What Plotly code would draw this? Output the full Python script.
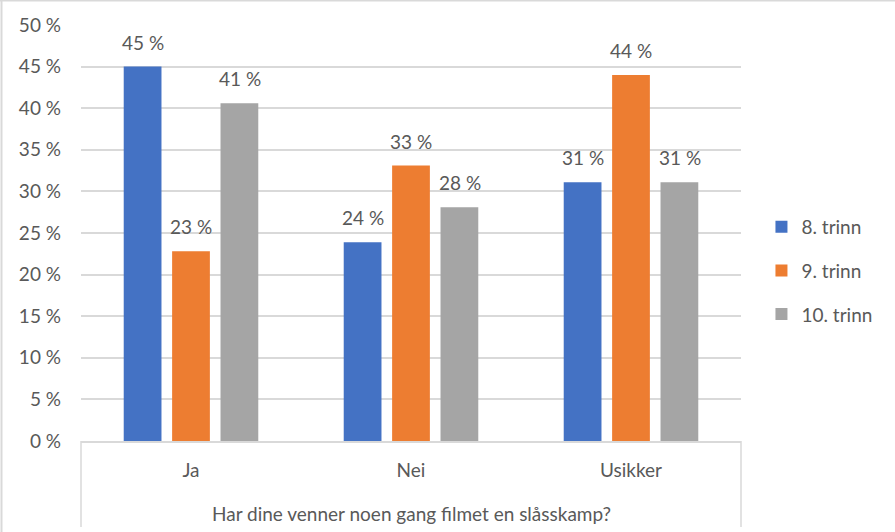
import plotly.graph_objects as go

categories = ["Ja", "Nei", "Usikker"]
series_names = ["8. trinn", "9. trinn", "10. trinn"]
trinn_8 = [45.0, 23.9, 31.1]
trinn_9 = [22.8, 33.1, 44.0]
trinn_10 = [40.6, 28.1, 31.1]
y_ticks = [0, 5, 10, 15, 20, 25, 30, 35, 40, 45, 50]
x_title = "Har dine venner noen gang filmet en slåsskamp?"

colors = ["#4472c4", "#ed7d31", "#a5a5a5"]
text_col = "#595959"
grid_col = "#d9d9d9"
FONT = "Lato"
FS = 19

fig = go.Figure()
for i, (name, vals) in enumerate(zip(series_names, [trinn_8, trinn_9, trinn_10])):
    fig.add_trace(go.Bar(
        x=categories, y=vals, name=name,
        marker=dict(color=colors[i], line=dict(width=0)),
        legendgroup=name,
    ))
    # data labels above bars, shifted to each bar's slot in the group
    for c, v in zip(categories, vals):
        fig.add_annotation(
            x=c, y=v, text=f"{v:.0f} %", showarrow=False,
            xshift=(i - 1) * 48.5, yshift=11, yanchor="bottom",
            font=dict(family=FONT, size=FS, color=text_col),
        )

# x-axis title box (Excel style multi-level category)
fig.add_annotation(
    x=0.5, y=-0.175, xref="paper", yref="paper", text=x_title,
    showarrow=False, yanchor="middle",
    font=dict(family=FONT, size=FS, color=text_col),
)
for xv in (0, 1):
    fig.add_shape(type="line", xref="paper", yref="paper",
                  x0=xv, x1=xv, y0=0, y1=-0.207,
                  line=dict(color=grid_col, width=1.5))
# outer chart border (top and left)
fig.add_shape(type="line", xref="paper", yref="paper",
              x0=-81 / 660, x1=814 / 660, y0=440.5 / 416, y1=440.5 / 416,
              line=dict(color=grid_col, width=2))
fig.add_shape(type="line", xref="paper", yref="paper",
              x0=-79.5 / 660, x1=-79.5 / 660, y0=441 / 416, y1=-91 / 416,
              line=dict(color=grid_col, width=2))

fig.update_layout(
    width=895, height=532,
    margin=dict(l=81, r=154, t=25, b=91),
    paper_bgcolor="white", plot_bgcolor="white",
    barmode="group", bargap=0.34, bargroupgap=0.22,
    font=dict(family=FONT, size=FS, color=text_col),
    xaxis=dict(
        showgrid=False, showline=True, linecolor=grid_col, linewidth=1.5,
        ticks="", ticklabelstandoff=11,
        tickfont=dict(family=FONT, size=FS, color=text_col),
    ),
    yaxis=dict(
        range=[0, 50], tickvals=y_ticks,
        ticktext=[f"{t} %" for t in y_ticks],
        showgrid=True, gridcolor=grid_col, gridwidth=1.5,
        zeroline=False, showline=False, ticks="",
        ticklabelstandoff=19,
        tickfont=dict(family=FONT, size=FS, color=text_col),
    ),
    legend=dict(
        x=1.031, y=0.409, xanchor="left", yanchor="middle",
        font=dict(family=FONT, size=FS, color=text_col),
        tracegroupgap=16, bgcolor="rgba(0,0,0,0)",
    ),
)

fig.write_html("out.html", config={"displayModeBar": False},
               post_script="document.body.style.margin='0';")
